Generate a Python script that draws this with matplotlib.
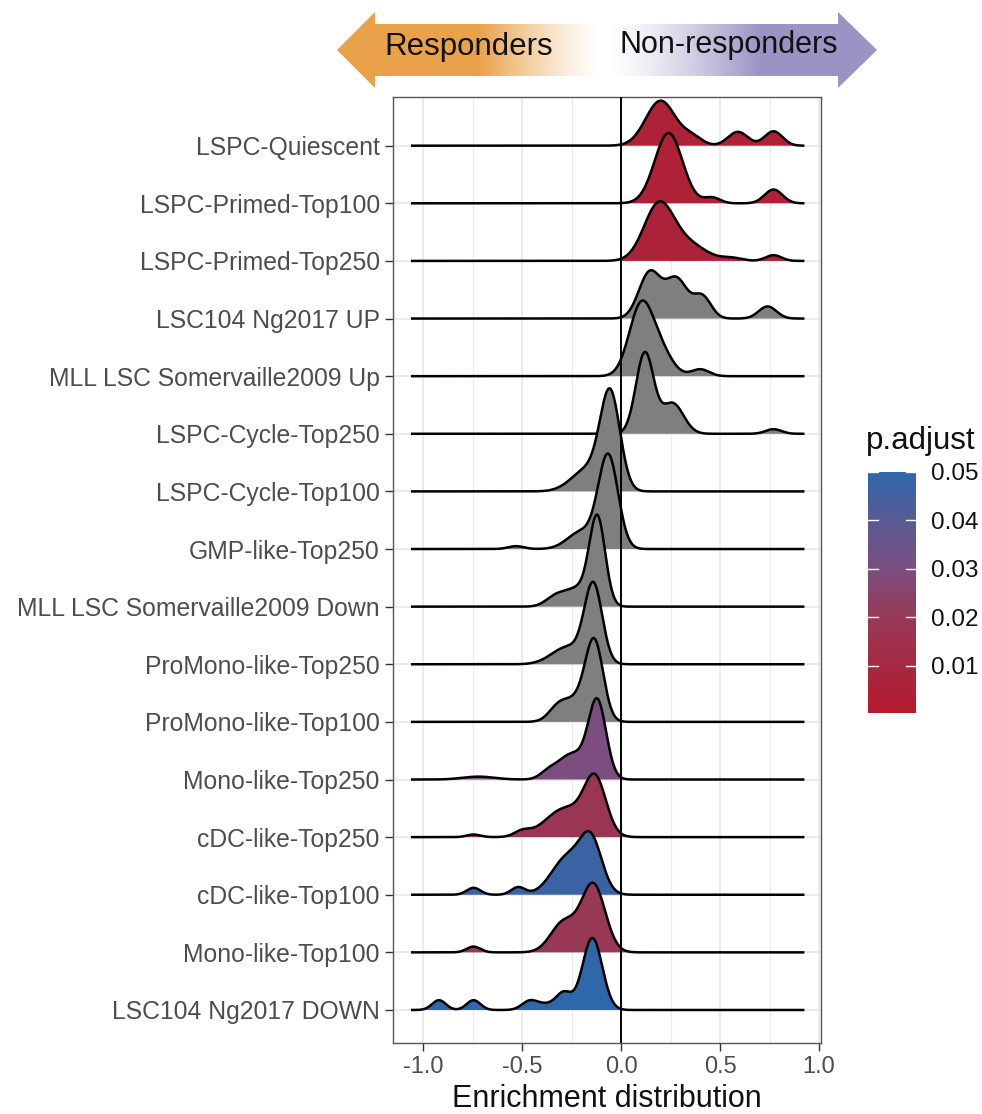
import numpy as np
import matplotlib
matplotlib.use("Agg")
import matplotlib.pyplot as plt
from matplotlib.colors import LinearSegmentedColormap, Normalize, to_rgb
from matplotlib.cm import ScalarMappable
from matplotlib.patches import Polygon

plt.rcParams['font.family'] = ['Liberation Sans', 'DejaVu Sans']

# gene sets, top to bottom
gene_sets = ["LSPC-Quiescent", "LSPC-Primed-Top100", "LSPC-Primed-Top250",
             "LSC104 Ng2017 UP", "MLL LSC Somervaille2009 Up", "LSPC-Cycle-Top250",
             "LSPC-Cycle-Top100", "GMP-like-Top250", "MLL LSC Somervaille2009 Down",
             "ProMono-like-Top250", "ProMono-like-Top100", "Mono-like-Top250",
             "cDC-like-Top250", "cDC-like-Top100", "Mono-like-Top100", "LSC104 Ng2017 DOWN"]

# adjusted p value (nan = not significant, drawn grey)
nan = np.nan
p_adjust = [0.005, 0.005, 0.006, nan, nan, nan, nan, nan, nan, nan, nan,
            0.030, 0.018, 0.047, 0.019, 0.050]

# density peaks: (enrichment, height in rows, spread)
quiescent = [(0.20, 0.78, 0.075), (0.36, 0.14, 0.05), (0.59, 0.24, 0.05), (0.77, 0.25, 0.045)]
primed100 = [(0.24, 1.22, 0.07), (0.46, 0.10, 0.04), (0.77, 0.24, 0.045)]
primed250 = [(0.19, 0.96, 0.075), (0.34, 0.28, 0.09), (0.56, 0.05, 0.05), (0.77, 0.10, 0.04)]
lsc104_up = [(0.145, 0.80, 0.055), (0.28, 0.68, 0.055), (0.41, 0.38, 0.045), (0.74, 0.21, 0.045)]
mll_up = [(0.10, 1.20, 0.06), (0.20, 0.40, 0.06), (0.40, 0.12, 0.045)]
cycle250 = [(0.12, 1.40, 0.045), (0.26, 0.53, 0.055), (0.77, 0.08, 0.04)]
cycle100 = [(-0.055, 1.65, 0.05), (-0.17, 0.38, 0.08)]
gmp250 = [(-0.065, 1.61, 0.05), (-0.20, 0.30, 0.07), (-0.53, 0.05, 0.04)]
mll_down = [(-0.12, 1.52, 0.04), (-0.22, 0.30, 0.06), (-0.33, 0.17, 0.05)]
promono250 = [(-0.14, 1.35, 0.045), (-0.27, 0.30, 0.08)]
promono100 = [(-0.135, 1.38, 0.045), (-0.22, 0.30, 0.05), (-0.31, 0.30, 0.05)]
mono250 = [(-0.12, 1.33, 0.045), (-0.25, 0.44, 0.07), (-0.37, 0.10, 0.04), (-0.72, 0.05, 0.08)]
cdc250 = [(-0.13, 0.93, 0.055), (-0.28, 0.50, 0.10), (-0.50, 0.09, 0.04), (-0.745, 0.045, 0.035)]
cdc100 = [(-0.15, 0.86, 0.055), (-0.27, 0.65, 0.08), (-0.52, 0.13, 0.035), (-0.745, 0.12, 0.035)]
mono100 = [(-0.14, 1.17, 0.06), (-0.29, 0.52, 0.065), (-0.745, 0.10, 0.035)]
lsc104_down = [(-0.145, 1.25, 0.05), (-0.29, 0.30, 0.04), (-0.38, 0.08, 0.04),
               (-0.46, 0.16, 0.04), (-0.745, 0.17, 0.035), (-0.92, 0.17, 0.035)]

ridges = [quiescent, primed100, primed250, lsc104_up, mll_up, cycle250, cycle100, gmp250,
          mll_down, promono250, promono100, mono250, cdc250, cdc100, mono100, lsc104_down]

x_range = (-1.055, 0.92)
x_ticks = [-1.0, -0.5, 0.0, 0.5, 1.0]
cb_ticks = [0.01, 0.02, 0.03, 0.04, 0.05]

cmap = LinearSegmentedColormap.from_list(
    "padj", [(0, "#B5192D"), (0.4, "#973A58"), (0.6, "#7B4E80"), (0.8, "#5A5B95"), (1, "#2E67AA")])
norm = Normalize(0.0003, 0.05)


def main():
    fig = plt.figure(figsize=(9.82, 11.14), dpi=100)
    W, H = 982, 1114
    ax = fig.add_axes([393 / W, 1 - 1043 / H, (821 - 393) / W, (1043 - 97) / H])

    n = len(gene_sets)
    x = np.linspace(x_range[0], x_range[1], 1200)
    for i, (peaks, p) in enumerate(zip(ridges, p_adjust)):
        base = n - i
        h = np.zeros_like(x)
        for c, a, s in peaks:
            h += a * np.exp(-0.5 * ((x - c) / s) ** 2)
        fill = "#7F7F7F" if np.isnan(p) else cmap(norm(p))
        ax.fill_between(x, base, base + h, facecolor=fill, edgecolor="none", zorder=2 + i)
        ax.plot(x, base + h, color="black", lw=1.8, zorder=2 + i)

    ax.axvline(0, color="black", lw=1.4, zorder=60)

    ax.set_xlim(-1.152, 1.01)
    ax.set_ylim(0.427, 16.845)
    ax.set_xticks(x_ticks)
    ax.set_xticklabels(["%.1f" % t for t in x_ticks])
    ax.set_xticks([-0.75, -0.25, 0.25, 0.75], minor=True)
    ax.set_yticks(range(1, n + 1))
    ax.set_yticklabels(gene_sets[::-1])
    ax.set_axisbelow(True)
    ax.grid(which="major", color="#EBEBEB", lw=1.4)
    ax.grid(which="minor", axis="x", color="#EBEBEB", lw=0.8)
    ax.tick_params(axis="both", which="major", length=5.5, width=1, color="#333333",
                   labelcolor="#4D4D4D", labelsize=17, pad=4)
    ax.tick_params(axis="y", which="major", labelsize=17.8)
    ax.tick_params(axis="x", which="minor", length=0)
    for sp in ax.spines.values():
        sp.set_color("#555555")
        sp.set_linewidth(1)
    ax.set_xlabel("Enrichment distribution", fontsize=22, color="#111111", labelpad=4)

    # colour bar
    cax = fig.add_axes([868 / W, 1 - 713 / H, 48 / W, 241 / H])
    cb = fig.colorbar(ScalarMappable(norm=norm, cmap=cmap), cax=cax)
    cb.outline.set_visible(False)
    cb.set_ticks(cb_ticks)
    cb.set_ticklabels(["%.2f" % t for t in cb_ticks])
    cax.tick_params(length=0, labelsize=17.5, pad=11, labelcolor="#111111")
    for t in cb_ticks:
        cax.axhline(t, 0, 0.2, color="white", lw=1)
        cax.axhline(t, 0.8, 1, color="white", lw=1)
    fig.text(866 / W, 1 - 441 / H, "p.adjust", fontsize=22.5, ha="left", va="center", color="#111111")

    # responder / non-responder banner
    bx = fig.add_axes([0, 0, 1, 1])
    bx.axis("off")
    left = Polygon([(337, 50), (375, 12), (375, 24), (602, 24), (602, 76), (375, 76), (375, 88)],
                   closed=True, facecolor="none", edgecolor="none")
    right = Polygon([(610, 24), (838, 24), (838, 12), (877, 50), (838, 88), (838, 76), (610, 76)],
                    closed=True, facecolor="none", edgecolor="none")
    bx.add_patch(left)
    bx.add_patch(right)

    xs = np.linspace(337, 602, 400)
    img = np.zeros((1, len(xs), 4))
    img[..., :3] = to_rgb("#E9A249")
    img[..., 3] = np.clip((602 - xs) / (602 - 480), 0, 1) ** 1.3
    im = bx.imshow(img, extent=(337, 602, 88, 12), aspect="auto", interpolation="bilinear")
    im.set_clip_path(left)

    xs = np.linspace(610, 877, 400)
    img = np.zeros((1, len(xs), 4))
    img[..., :3] = to_rgb("#9C93C4")
    img[..., 3] = np.clip((xs - 610) / (760 - 610), 0, 1) ** 1.3
    im = bx.imshow(img, extent=(610, 877, 88, 12), aspect="auto", interpolation="bilinear")
    im.set_clip_path(right)

    bx.text(469, 47, "Responders", fontsize=22.5, ha="center", va="center", color="#111111")
    bx.text(729, 45, "Non-responders", fontsize=22, ha="center", va="center", color="#111111")
    bx.set_xlim(0, W)
    bx.set_ylim(H, 0)

    fig.savefig("out.png", dpi=100)


if __name__ == "__main__":
    main()
